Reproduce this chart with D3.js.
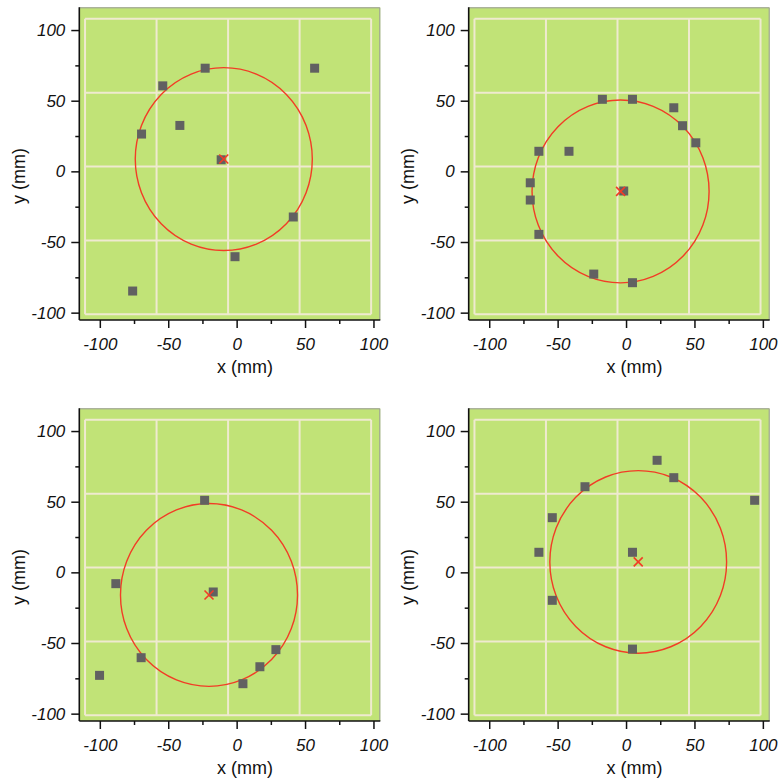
<!DOCTYPE html>
<html>
<head>
<meta charset="utf-8">
<script src="https://cdn.jsdelivr.net/npm/d3@7"></script>
<style>
  html, body { margin: 0; padding: 0; background: #fff; }
  svg { display: block; }
  text { font-family: "Liberation Sans", Arial, sans-serif; fill: #111; }
</style>
</head>
<body>
<svg id="chart" width="784" height="781"></svg>
<script>
// ---- data (mm) ----
const panelNames = ["A", "B", "C", "D"];

const pointsAX = [57, -23, -54, -41.5, -69.5, -11.3, 41.4, -1.2, -76];
const pointsAY = [73, 73, 60.5, 32.5, 26.4, 8.2, -32.3, -60.4, -84.7];

const pointsBX = [-17.3, 4.7, 34.9, 41.3, 51, -63.7, -41.7, -70, -70, -63.7, -23.6, 4.7, -1.7];
const pointsBY = [51, 51, 45, 32.3, 20.2, 14.2, 14.2, -8.1, -20.3, -44.6, -72.7, -78.8, -13.9];

const pointsCX = [-23.4, -88.3, -17.1, -69.8, -100.2, 28.7, 17, 4.6];
const pointsCY = [51, -8, -13.9, -60.4, -72.9, -54.7, -66.8, -78.8];

const pointsDX = [22.7, 34.9, -30, 94, -53.9, -63.7, 4.7, -53.9, 4.7];
const pointsDY = [79.3, 67, 60.6, 51, 38.7, 14.2, 14.2, -19.8, -54.3];

const centerX = [-9.4, -4, -20.2, 8.9];
const centerY = [8.7, -14.2, -16, 7.4];
const circleR = [64.7, 64.7, 64.7, 64.6];

const majorTicks = [-100, -50, 0, 50, 100];
const minorTicks = [-75, -25, 25, 75];
const xDomain = [-115, 105];
const yDomain = [-105.2, 116.1];
const gridX = [-110.8, 98.3];
const gridY = [-101.2, 108];
const xTitle = "x (mm)";
const yTitle = "y (mm)";

const pointsX = [pointsAX, pointsBX, pointsCX, pointsDX];
const pointsY = [pointsAY, pointsBY, pointsCY, pointsDY];

// ---- layout ----
const W = 301, H = 312.7;
const origins = [[79.3, 7.3], [468.7, 7.3], [79.3, 408.3], [468.7, 408.3]];

const svg = d3.select("#chart");

const x = d3.scaleLinear().domain(xDomain).range([0, W]);
const y = d3.scaleLinear().domain(yDomain).range([H, 0]);

const GREEN = "#c1e377", GRID = "#efead0", MARK = "#616161", RED = "#f23c26";

panelNames.forEach((name, i) => {
  const g = svg.append("g").attr("transform", `translate(${origins[i][0]},${origins[i][1]})`);

  g.append("rect").attr("x", 0).attr("y", 0).attr("width", W).attr("height", H).attr("fill", GREEN);
  // top/right faint frame
  g.append("path").attr("d", `M0,0.5H${W - 0.5}V${H}`).attr("fill", "none").attr("stroke", "#9a9a9a").attr("stroke-width", 1);

  // background grid (4x4 cells)
  const gx = d3.range(5).map(k => gridX[0] + (gridX[1] - gridX[0]) * k / 4);
  const gy = d3.range(5).map(k => gridY[0] + (gridY[1] - gridY[0]) * k / 4);
  const grid = g.append("g").attr("stroke", GRID).attr("stroke-width", 2).attr("fill", "none");
  gx.forEach(v => grid.append("line").attr("x1", x(v)).attr("x2", x(v)).attr("y1", y(gridY[0])).attr("y2", y(gridY[1])));
  gy.forEach(v => grid.append("line").attr("y1", y(v)).attr("y2", y(v)).attr("x1", x(gridX[0])).attr("x2", x(gridX[1])));

  // circle (ellipse in px because scales differ)
  g.append("ellipse")
    .attr("cx", x(centerX[i])).attr("cy", y(centerY[i]))
    .attr("rx", x(circleR[i]) - x(0)).attr("ry", y(0) - y(circleR[i]))
    .attr("fill", "none").attr("stroke", RED).attr("stroke-width", 1.4);

  // points
  const pts = pointsX[i].map((v, k) => [v, pointsY[i][k]]);
  g.selectAll("rect.pt").data(pts).enter().append("rect")
    .attr("class", "pt")
    .attr("x", d => x(d[0]) - 4.5).attr("y", d => y(d[1]) - 4.5)
    .attr("width", 9).attr("height", 9)
    .attr("fill", MARK);

  // centre cross
  const cx = x(centerX[i]), cy = y(centerY[i]), s = 4.5;
  g.append("path")
    .attr("d", `M${cx - s},${cy - s}L${cx + s},${cy + s}M${cx - s},${cy + s}L${cx + s},${cy - s}`)
    .attr("stroke", RED).attr("stroke-width", 1.6).attr("fill", "none");

  // axes
  const xAxis = g.append("g").attr("transform", `translate(0,${H})`)
    .call(d3.axisBottom(x).tickValues(majorTicks).tickSize(8).tickPadding(10).tickFormat(d3.format("d")));
  g.append("g").attr("transform", `translate(0,${H})`)
    .call(d3.axisBottom(x).tickValues(minorTicks).tickSize(4).tickFormat(""))
    .call(a => a.select(".domain").remove());
  const yAxis = g.append("g")
    .call(d3.axisLeft(y).tickValues(majorTicks).tickSize(8).tickPadding(6).tickFormat(d3.format("d")));
  g.append("g")
    .call(d3.axisLeft(y).tickValues(minorTicks).tickSize(4).tickFormat(""))
    .call(a => a.select(".domain").remove());

  g.selectAll(".domain").attr("stroke", "#111").attr("stroke-width", 1.6);
  g.selectAll(".tick line").attr("stroke", "#111").attr("stroke-width", 1.5);
  [xAxis, yAxis].forEach(a => a.selectAll(".tick text")
    .attr("font-size", 17).attr("font-style", "italic")
    .attr("font-family", "'Liberation Sans', Arial, sans-serif").attr("fill", "#111")
    .text(d => d < 0 ? "-" + Math.abs(d) : String(d)));
  xAxis.selectAll(".tick text").attr("dy", "0.72em");
  // remove domain outer ticks at ends
  xAxis.select(".domain").attr("d", `M0,0H${W}`);
  yAxis.select(".domain").attr("d", `M0,0V${H}`);

  // titles
  g.append("text").attr("x", 245 - 79.3).attr("y", 373 - 7.3)
    .attr("text-anchor", "middle").attr("font-size", 18).text(xTitle);
  g.append("text")
    .attr("transform", `translate(${25 - 79.3},${176 - 7.3}) rotate(-90)`)
    .attr("text-anchor", "middle").attr("font-size", 18).text(yTitle);
});
</script>
</body>
</html>
